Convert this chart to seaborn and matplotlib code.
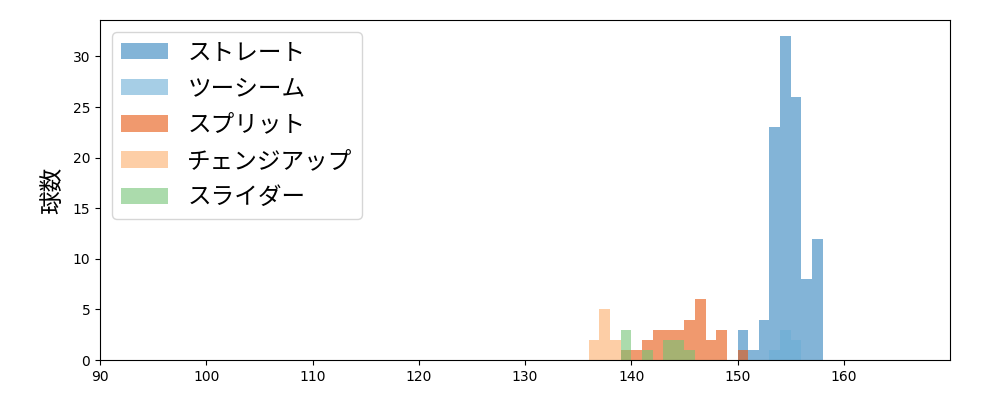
import numpy as np
import pandas as pd
import matplotlib
matplotlib.use("Agg")
import matplotlib.pyplot as plt
import seaborn as sns

# ===== data: speed bin (km/h, lower edge) and pitch count =====
straight_speed = [150, 151, 152, 153, 154, 155, 156, 157]
straight_count = [3, 1, 4, 23, 32, 26, 8, 12]

twoseam_speed = [153, 154, 155]
twoseam_count = [1, 3, 2]

split_speed = [139, 140, 141, 142, 143, 144, 145, 146, 147, 148, 150]
split_count = [1, 1, 2, 3, 3, 3, 4, 6, 2, 3, 1]

changeup_speed = [136, 137, 138]
changeup_count = [2, 5, 2]

slider_speed = [139, 141, 143, 144, 145]
slider_count = [3, 1, 2, 2, 1]

pitch_names = ["ストレート", "ツーシーム", "スプリット", "チェンジアップ", "スライダー"]
pitch_colors = ["#3182bd", "#6baed6", "#e6550d", "#fdae6b", "#74c476"]

plt.rcParams["font.family"] = ["Noto Sans CJK JP", "DejaVu Sans"]

series = [
    (straight_speed, straight_count),
    (twoseam_speed, twoseam_count),
    (split_speed, split_count),
    (changeup_speed, changeup_count),
    (slider_speed, slider_count),
]

fig, ax = plt.subplots(figsize=(10, 4), dpi=100)
fig.subplots_adjust(left=0.1, right=0.95, top=0.95, bottom=0.1)

for (speed, count), name, color in zip(series, pitch_names, pitch_colors):
    df = pd.DataFrame({"speed": np.array(speed) + 0.5, "count": count})
    sns.histplot(data=df, x="speed", weights="count", binwidth=1,
                 binrange=(90, 170), ax=ax, color=color, alpha=0.6,
                 linewidth=0, label=name)

ax.set_xlim(90, 170)
ax.set_xticks(np.arange(90, 161, 10))
ax.set_yticks(np.arange(0, 31, 5))
for lbl in ax.get_xticklabels() + ax.get_yticklabels():
    lbl.set_family("DejaVu Sans")
ax.set_xlabel("")
ax.set_ylabel("球数", fontsize=17, labelpad=6)
ax.legend(loc="upper left", fontsize=17, borderaxespad=0.5, labelspacing=0.56)

plt.savefig("out.png")
